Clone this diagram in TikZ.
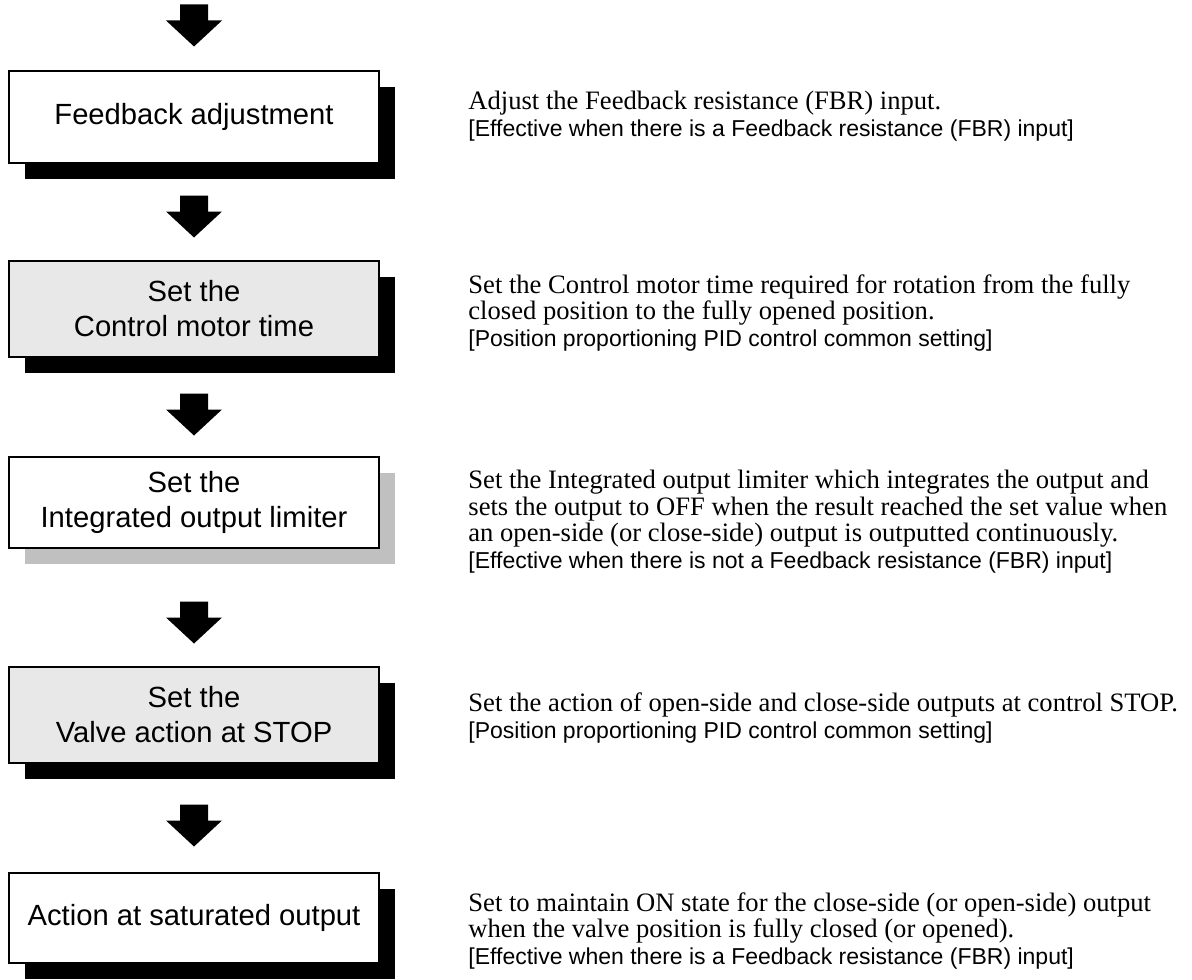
\documentclass[tikz,border=0pt]{standalone}
\usepackage{fontspec}
\setmainfont{Liberation Serif}
\setsansfont{Liberation Sans}
\usetikzlibrary{calc,shadows}
\definecolor{boxgray}{HTML}{E8E8E8}
\definecolor{shadegray}{HTML}{C0C0C0}
\newcommand{\notesans}{\sffamily\fontsize{11.5}{13.25}\selectfont}

\tikzset{
  stepbox/.style={draw,line width=1pt,fill=white,minimum width=185pt,inner sep=0pt,
    align=center,font=\sffamily\fontsize{14.6}{17.5}\selectfont,
    general shadow={shadow xshift=8pt,shadow yshift=-8pt,fill=#1}},
  stepbox/.default=black,
  note/.style={anchor=base west,align=left,inner sep=0pt,font=\fontsize{13.3}{13.25}\selectfont},
  flowarrow/.pic={\fill (0,0) -- (-28,-26) -- (-14,-26) -- (-14,-42) -- (14,-42) -- (14,-26) -- (28,-26) -- cycle;}
}

\begin{document}
\begin{tikzpicture}[x=0.5pt,y=-0.5pt]
\useasboundingbox (0,0) rectangle (1192,979);

% steps
\node[stepbox,minimum height=45.5pt] (fbadj) at (194,117) {Feedback adjustment};
\node[stepbox,fill=boxgray,minimum height=48pt] (motor) at (194,308.5) {Set the\\Control motor time};
\node[stepbox=shadegray,minimum height=45.5pt] (limiter) at (194,502) {Set the\\Integrated output limiter};
\node[stepbox,fill=boxgray,minimum height=48pt] (valve) at (194,714.5) {Set the\\Valve action at STOP};
\node[stepbox,minimum height=45pt] (satout) at (194,917.5) {Action at saturated output};

% arrows
\pic at ($(fbadj.north)+(0,-24)$) {flowarrow};
\pic at ($(motor.north)+(0,-22)$) {flowarrow};
\pic at ($(limiter.north)+(0,-20)$) {flowarrow};
\pic at ($(valve.north)+(0,-22)$) {flowarrow};
\pic at ($(satout.north)+(0,-25)$) {flowarrow};

% descriptions (anchored at the last line)
\node[note] (fbadjtxt) at (468,136.5) {Adjust the Feedback resistance (FBR) input.\\
  \notesans [Effective when there is a Feedback resistance (FBR) input]};
\node[note] (motortxt) at (468,346) {Set the Control motor time required for rotation from the fully\\
  closed position to the fully opened position.\\
  \notesans [Position proportioning PID control common setting]};
\node[note] (limitertxt) at (468,568) {Set the Integrated output limiter which integrates the output and\\
  sets the output to OFF when the result reached the set value when\\
  an open-side (or close-side) output is outputted continuously.\\
  \notesans [Effective when there is not a Feedback resistance (FBR) input]};
\node[note] (valvetxt) at (468,738) {Set the action of open-side and close-side outputs at control STOP.\\
  \notesans [Position proportioning PID control common setting]};
\node[note] (satouttxt) at (468,964) {Set to maintain ON state for the close-side (or open-side) output\\
  when the valve position is fully closed (or opened).\\
  \notesans [Effective when there is a Feedback resistance (FBR) input]};
\end{tikzpicture}
\end{document}
